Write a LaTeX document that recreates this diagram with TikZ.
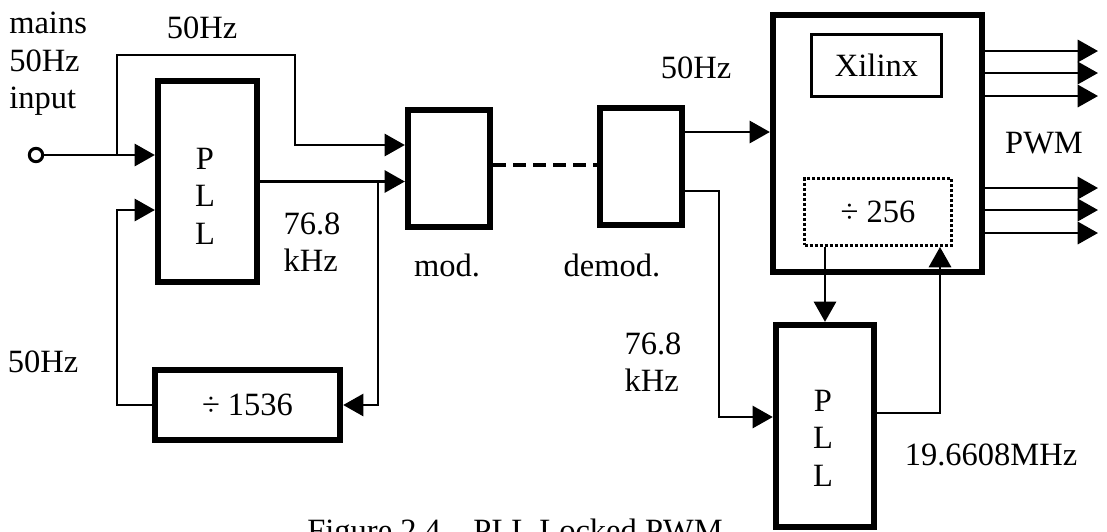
\documentclass[tikz,border=0pt]{standalone}
\usepackage{fontspec}
\setmainfont{Liberation Serif}
\usetikzlibrary{arrows.meta,calc}
\tikzset{
  every node/.style={
    inner sep=0pt,
    font=\fontsize{11.7}{13.5}\selectfont
  },
  box/.style={draw, line width=2.3pt},
  thinbox/.style={draw, line width=1pt},
  dotbox/.style={draw, line width=1.1pt, dash pattern=on 1.1pt off 0.7pt}
}

\begin{document}
\begin{tikzpicture}[x=0.36pt,y=-0.36pt,line width=0.9pt,>={Triangle[length=7.3pt,width=8pt]}]
    \clip (0,0) rectangle (1107,531);

    % Blöcke links
    \node[box, minimum width=35.6pt, minimum height=72.4pt] (pllA) at (207.5,181.5) {};
    \node[align=center] (pllAtxt) at (205,196) {P\\L\\L};
    \node[box, minimum width=66.6pt, minimum height=25.2pt] (div) at (247.5,405) {÷ 1536};
    \node[box, minimum width=29.5pt, minimum height=42.1pt] (mod) at (449,168.5) {};
    \node[box, minimum width=29.5pt, minimum height=42.1pt] (demod) at (641,166.5) {};

    % Blöcke rechts
    \node[box, minimum width=75.2pt, minimum height=92.5pt] (xil) at (877.5,143.5) {};
    \node[thinbox, minimum width=46.8pt, minimum height=22.3pt] (xinner) at (876.5,65.5) {Xilinx};
    \node[dotbox, minimum width=52.9pt, minimum height=24.1pt] (div256) at (878,212) {÷ 256};
    \node[box, minimum width=35.3pt, minimum height=72.7pt] (pllB) at (825,426) {};
    \node[align=center] (pllBtxt) at (823,438) {P\\L\\L};

    % Eingang
    \node[draw, circle, line width=1.1pt, minimum size=4.8pt] (inp) at (36,155) {};
    \draw[->] (inp) -- (inp -| pllA.west);
    \coordinate (brA) at (117,155);
    \coordinate (topR) at (295,55);
    \draw[->] (brA) |- (topR) |- ($(mod.west)+(0,-23.5)$);

    % PLL Ausgang und Teiler
    \draw[->] (pllA.east) -- (pllA.east -| mod.west);
    \coordinate (brB) at (378,181.5);
    \draw[->] (brB) |- (div.east);
    \coordinate (fbA) at (117,210);
    \draw[->] (div.west) -| (fbA) -- (fbA -| pllA.west);

    % Strecke
    \draw[line width=1.1pt, dash pattern=on 4.6pt off 2.6pt]
        ($(mod.east)+(0,-3.5)$) -- ($(mod.east -| demod.west)+(0,-3.5)$);

    % demod Ausgänge
    \coordinate (dmA) at ($(demod.east)+(0,-34.5)$);
    \draw[->] (dmA) -- (dmA -| xil.west);
    \coordinate (dmB) at ($(demod.east)+(0,24.5)$);
    \coordinate (dmC) at (719,417);
    \draw[->] (dmB) -| (dmC) -- (dmC -| pllB.west);

    % Schleife Xilinx
    \draw[->] (pllB.north |- div256.south) -- (pllB.north);
    \coordinate (pbA) at ($(pllB.east)+(0,-13)$);
    \coordinate (dvB) at ($(div256.south)+(62,0)$);
    \draw[->] (pbA) -| (dvB);

    % PWM
    \foreach \y [count=\i] in {51,73,96,188,210,233} {
        \coordinate (pwm\i) at (1098,\y);
        \draw[->] (pwm\i -| xil.east) -- (pwm\i);
    }

    % Beschriftung
    \node[anchor=west, align=left] (mainsLbl) at (8,64) {mains\\50Hz\\input};
    \node (hzA) at (202,28) {50Hz};
    \node[align=left] (khzA) at (312,242) {76.8\\kHz};
    \node (hzB) at (43,362) {50Hz};
    \node (modLbl) at (447,265) {mod.};
    \node (demodLbl) at (612,265) {demod.};
    \node (hzC) at (696,68) {50Hz};
    \node (pwmLbl) at (1044,143) {PWM};
    \node[align=left] (khzB) at (653,362) {76.8\\kHz};
    \node (mhzLbl) at (991,455) {19.6608MHz};
    \node[anchor=base] (capt) at (515,541) {Figure 2.4 – PLL Locked PWM};
\end{tikzpicture}
\end{document}
